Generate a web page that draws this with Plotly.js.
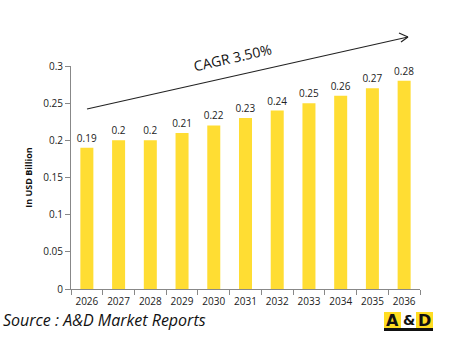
<!DOCTYPE html>
<html><head><meta charset="utf-8">
<script src="https://cdn.plot.ly/plotly-3.0.1.min.js"></script>
<style>html,body{margin:0;padding:0;background:#fff}#c{width:457px;height:361px}</style>
</head><body><div id="c"></div>
<script>
var years = ["2026","2027","2028","2029","2030","2031","2032","2033","2034","2035","2036"];
var values = [0.19,0.2,0.2,0.21,0.22,0.23,0.24,0.25,0.26,0.27,0.28];
var labels = ["0.19","0.2","0.2","0.21","0.22","0.23","0.24","0.25","0.26","0.27","0.28"];
var yTicks = [0,0.05,0.1,0.15,0.2,0.25,0.3];
var yTickText = ["0","0.05","0.1","0.15","0.2","0.25","0.3"];

var W=457,H=361,L=71,R=37,T=66,B=72;
var pw=W-L-R, ph=H-T-B;
function px(x){return (x-L)/pw;}
function py(y){return (H-B-y)/ph;}
var FONT="'Open Sans', Lato, sans-serif";

var shapes=[
 {type:'line',xref:'paper',yref:'paper',x0:px(87),y0:py(109),x1:px(408),y1:py(37),line:{color:'#222',width:1.2}},
 {type:'line',xref:'paper',yref:'paper',x0:px(399),y0:py(33),x1:px(408),y1:py(37),line:{color:'#222',width:1.2}},
 {type:'line',xref:'paper',yref:'paper',x0:px(401),y0:py(42),x1:px(408),y1:py(37),line:{color:'#222',width:1.2}},
 {type:'rect',xref:'paper',yref:'paper',x0:px(384),y0:py(312),x1:px(401),y1:py(328),fillcolor:'#FFDD22',line:{width:0}},
 {type:'rect',xref:'paper',yref:'paper',x0:px(401),y0:py(312),x1:px(416),y1:py(328),fillcolor:'#FFFFFF',line:{width:0}},
 {type:'rect',xref:'paper',yref:'paper',x0:px(416),y0:py(312),x1:px(433),y1:py(328),fillcolor:'#FFDD22',line:{width:0}},
 {type:'rect',xref:'paper',yref:'paper',x0:px(384),y0:py(328),x1:px(433),y1:py(331),fillcolor:'#111',line:{width:0}}
];
function ann(x,y,text,font,extra){
  var a={xref:'paper',yref:'paper',x:px(x),y:py(y),text:text,showarrow:false,xanchor:'center',yanchor:'middle',font:font};
  if(extra){for(var k in extra)a[k]=extra[k];}
  return a;
}
var annotations=[
 ann(232,58,'CAGR 3.50%',{family:FONT,size:14,color:'#111'},{textangle:-12.6}),
 ann(1,320,'<i>Source : A&D Market Reports</i>',{family:FONT,size:16,color:'#111'},{xanchor:'left'}),
 ann(392.5,320,'<b>A</b>',{family:'DejaVu Sans',size:16,color:'#111'}),
 ann(408.5,320,'<b>&</b>',{family:'DejaVu Sans',size:14,color:'#111'}),
 ann(424.5,320,'<b>D</b>',{family:'DejaVu Sans',size:16,color:'#111'})
];

var trace={type:'bar',x:years,y:values,text:labels,textposition:'outside',texttemplate:'%{text}',cliponaxis:false,
 constraintext:'none',textangle:0,
 marker:{color:'#FFDD33'},textfont:{family:FONT,size:10,color:'#222'},hoverinfo:'skip'};

var layout={width:W,height:H,margin:{l:L,r:R,t:T,b:B,pad:0},paper_bgcolor:'#fff',plot_bgcolor:'#fff',
 showlegend:false,bargap:0.59,font:{family:FONT,size:10,color:'#333'},
 xaxis:{type:'category',showline:true,linecolor:'#888',linewidth:1,ticks:'outside',tickson:'boundaries',ticklen:5,tickcolor:'#888',
   ticklabelstandoff:3,tickangle:0,showgrid:false,zeroline:false,tickfont:{family:FONT,size:10,color:'#222'},fixedrange:true},
 yaxis:{range:[0,0.3],tickvals:yTicks,ticktext:yTickText,showline:true,linecolor:'#888',linewidth:1,ticks:'outside',ticklen:5,tickcolor:'#888',
   showgrid:false,zeroline:false,tickfont:{family:FONT,size:10,color:'#222'},
   title:{text:'<b>In USD Billion</b>',font:{family:FONT,size:9,color:'#111'},standoff:9},fixedrange:true},
 shapes:shapes,annotations:annotations};

Plotly.newPlot('c',[trace],layout,{displayModeBar:false,staticPlot:true});
</script></body></html>
